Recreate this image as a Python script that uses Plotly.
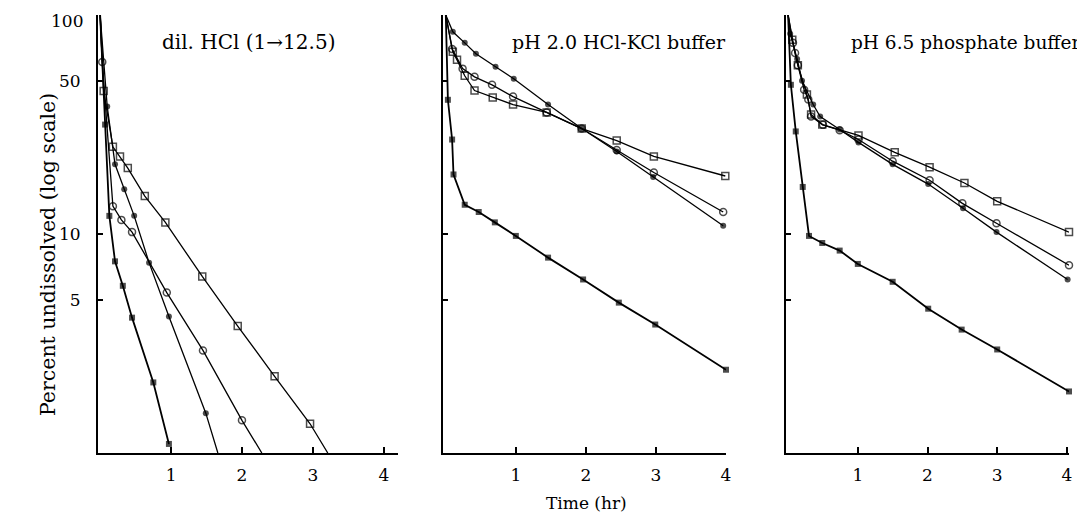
import plotly.graph_objects as go

W, H = 1085, 517
OFF = 8  # page body margin compensation

# ---------------- data (time in hr, percent undissolved) ----------------
panel_titles = ["dil. HCl (1→12.5)", "pH 2.0 HCl-KCl buffer", "pH 6.5 phosphate buffer"]
x_tick_vals = [1, 2, 3, 4]
x_tick_text = ["1", "2", "3", "4"]
y_tick_vals = [100, 50, 10, 5]
y_tick_text = ["100", "50", "10", "5"]

# Panel 1: dil. HCl (1->12.5)
hcl_t_fcirc = [0, 0.10, 0.21, 0.34, 0.48, 0.69, 0.97, 1.49, 1.66]
hcl_v_fcirc = [100, 38.2, 20.8, 16.0, 12.1, 7.4, 4.2, 1.52, 1.0]
hcl_t_ocirc = [0, 0.03, 0.18, 0.30, 0.45, 0.94, 1.45, 2.00, 2.28]
hcl_v_ocirc = [100, 61, 13.4, 11.6, 10.2, 5.4, 2.94, 1.41, 1.0]
hcl_t_osq = [0, 0.05, 0.18, 0.28, 0.39, 0.63, 0.92, 1.44, 1.94, 2.46, 2.96, 3.21]
hcl_v_osq = [100, 45, 25.0, 22.6, 20.0, 14.9, 11.3, 6.4, 3.8, 2.24, 1.36, 1.0]
hcl_t_fsq = [0, 0.07, 0.13, 0.21, 0.32, 0.45, 0.75, 0.97]
hcl_v_fsq = [100, 31.6, 12.1, 7.5, 5.8, 4.15, 2.1, 1.1]

# Panel 2: pH 2.0 HCl-KCl buffer
ph2_t_fcirc = [0, 0.10, 0.27, 0.43, 0.71, 0.97, 1.46, 1.94, 2.44, 2.96, 3.96]
ph2_v_fcirc = [100, 83.8, 74.6, 66.5, 58.0, 51.2, 39.0, 30.3, 23.8, 18.2, 10.9]
ph2_t_ocirc = [0, 0.09, 0.24, 0.41, 0.66, 0.96, 1.44, 1.94, 2.44, 2.97, 3.96]
ph2_v_ocirc = [100, 70, 56.9, 52.2, 48.0, 42.4, 35.9, 30.3, 24.2, 19.1, 12.6]
ph2_t_osq = [0, 0.10, 0.16, 0.27, 0.41, 0.67, 0.96, 1.44, 1.94, 2.44, 2.97, 3.99]
ph2_v_osq = [100, 68, 62.4, 52.8, 45.2, 42.0, 39.0, 35.9, 30.3, 26.7, 22.6, 18.4]
ph2_t_fsq = [0, 0.03, 0.09, 0.11, 0.27, 0.47, 0.70, 1.00, 1.46, 1.96, 2.47, 2.99, 4.00]
ph2_v_fsq = [100, 41, 27, 18.7, 13.6, 12.6, 11.3, 9.8, 7.8, 6.2, 4.86, 3.86, 2.4]

# Panel 3: pH 6.5 phosphate buffer
ph65_t_fcirc = [0, 0.03, 0.13, 0.20, 0.36, 0.46, 0.74, 1.01, 1.50, 2.01, 2.51, 2.99, 4.01]
ph65_v_fcirc = [100, 82, 63, 50.1, 39.0, 34.4, 30.0, 26.2, 20.8, 16.9, 13.1, 10.2, 6.2]
ph65_t_ocirc = [0, 0.07, 0.10, 0.14, 0.23, 0.29, 0.33, 0.50, 0.74, 1.01, 1.50, 2.03, 2.50, 2.99, 4.03]
ph65_v_ocirc = [100, 74.6, 67, 59, 45.6, 41.1, 34.4, 31.5, 29.8, 27.0, 21.5, 17.6, 13.8, 11.2, 7.2]
ph65_t_osq = [0, 0.06, 0.14, 0.27, 0.33, 0.49, 1.01, 1.53, 2.03, 2.53, 3.00, 4.03]
ph65_v_osq = [100, 77, 59, 43.3, 35.1, 31.6, 28.2, 23.6, 20.2, 17.1, 14.1, 10.2]
ph65_t_fsq = [0, 0.04, 0.11, 0.21, 0.30, 0.49, 0.74, 1.00, 1.50, 2.01, 2.49, 3.00, 4.03]
ph65_v_fsq = [100, 48, 29.4, 16.4, 9.8, 9.1, 8.4, 7.3, 6.05, 4.56, 3.66, 2.97, 1.91]

panels = [
    [(hcl_t_fcirc, hcl_v_fcirc, "fcirc"), (hcl_t_ocirc, hcl_v_ocirc, "ocirc"),
     (hcl_t_osq, hcl_v_osq, "osq"), (hcl_t_fsq, hcl_v_fsq, "fsq")],
    [(ph2_t_fcirc, ph2_v_fcirc, "fcirc"), (ph2_t_ocirc, ph2_v_ocirc, "ocirc"),
     (ph2_t_osq, ph2_v_osq, "osq"), (ph2_t_fsq, ph2_v_fsq, "fsq")],
    [(ph65_t_fcirc, ph65_v_fcirc, "fcirc"), (ph65_t_ocirc, ph65_v_ocirc, "ocirc"),
     (ph65_t_osq, ph65_v_osq, "osq"), (ph65_t_fsq, ph65_v_fsq, "fsq")],
]

# ---------------- styling ----------------
FONT = "DejaVu Serif"
styles = {
    "fcirc": dict(symbol="circle", size=6, color="black", line=dict(width=0)),
    "ocirc": dict(symbol="circle-open", size=7, color="black", line=dict(width=1.5, color="black")),
    "osq": dict(symbol="square-open", size=7, color="black", line=dict(width=1.5, color="black")),
    "fsq": dict(symbol="square", size=6, color="black", line=dict(width=0)),
}
line_w = {"fcirc": 1.3, "ocirc": 1.3, "osq": 1.3, "fsq": 1.8}


def fx(px):
    return (px - OFF) / W


def fy(py):
    return 1 - (py - OFF) / H


# pixel layout of the three plot areas (left px, right px, x range)
px_layout = [(98, 398, [-0.03, 4.2]), (443, 726, [-0.04, 4.0]), (786, 1069, [-0.03, 4.03])]
top_px, bot_px = 15, 453

fig = go.Figure()
for i, series in enumerate(panels):
    ax = "" if i == 0 else str(i + 1)
    for t, v, kind in series:
        st = dict(styles[kind])
        sizes = [0 if (tt == 0 or vv <= 1.0) else st["size"] for tt, vv in zip(t, v)]
        st["size"] = sizes
        fig.add_trace(go.Scatter(
            x=t, y=v, mode="lines+markers",
            line=dict(color="black", width=line_w[kind]),
            marker=st, xaxis="x" + ax, yaxis="y" + ax,
            showlegend=False, cliponaxis=False,
        ))

layout = dict(
    width=W, height=H, paper_bgcolor="white", plot_bgcolor="white",
    margin=dict(l=0, r=0, t=0, b=0), showlegend=False,
    font=dict(family=FONT, size=17, color="black"),
)
# the top label ("100") sits just below its tick in the reference, so it is drawn as text
y_label_text = [("" if v == 100 else s) for v, s in zip(y_tick_vals, y_tick_text)]
for i, (l, r, xr) in enumerate(px_layout):
    ax = "" if i == 0 else str(i + 1)
    layout["xaxis" + ax] = dict(
        domain=[fx(l), fx(r)], range=xr, showgrid=False, zeroline=False,
        showline=True, linecolor="black", linewidth=1.5,
        ticks="inside", ticklen=6, tickwidth=1.5, tickcolor="black",
        tickvals=x_tick_vals, ticktext=x_tick_text,
        tickfont=dict(family=FONT, size=17, color="black"),
        ticklabelstandoff=6, ticklabeloverflow="allow",
        automargin=False, anchor="y" + ax,
    )
    layout["yaxis" + ax] = dict(
        domain=[fy(bot_px), fy(top_px)], type="log", range=[0, 2],
        showgrid=False, zeroline=False, showline=True, linecolor="black", linewidth=2,
        ticks="inside", ticklen=5, tickwidth=1.5, tickcolor="black",
        tickvals=y_tick_vals, ticktext=y_label_text, showticklabels=(i == 0),
        tickfont=dict(family=FONT, size=17, color="black"),
        ticklabelstandoff=12, ticklabeloverflow="allow",
        automargin=False, anchor="x" + ax,
    )

ann = [dict(x=fx(85), y=fy(21), xref="paper", yref="paper", text=y_tick_text[0],
            showarrow=False, xanchor="right", yanchor="middle",
            font=dict(family=FONT, size=17, color="black"))]
title_pos = [(160, 42, 20), (510, 42, 19), (849, 42, 18.5)]
for (x, y, fs), txt in zip(title_pos, panel_titles):
    ann.append(dict(x=fx(x), y=fy(y), xref="paper", yref="paper", text=txt,
                    showarrow=False, xanchor="left", yanchor="middle",
                    font=dict(family=FONT, size=fs, color="black")))
ann.append(dict(x=fx(48), y=fy(255), xref="paper", yref="paper",
                text="Percent undissolved (log scale)", textangle=-90, showarrow=False,
                xanchor="center", yanchor="middle", font=dict(family=FONT, size=20.5, color="black")))
ann.append(dict(x=fx(586), y=fy(503), xref="paper", yref="paper", text="Time (hr)",
                showarrow=False, xanchor="center", yanchor="middle",
                font=dict(family=FONT, size=17, color="black")))
layout["annotations"] = ann

fig.update_layout(**layout)
fig.write_html("out.html")
